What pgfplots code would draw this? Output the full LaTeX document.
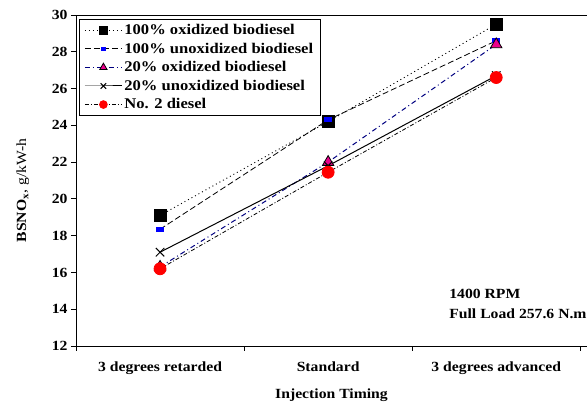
\documentclass[border=0pt]{standalone}
\usepackage{pgfplots}
\pgfplotsset{compat=1.18}
\usepackage{fontspec}
\setmainfont{Liberation Serif}[FakeStretch=1.12]
\definecolor{navyline}{RGB}{0,0,128}
\begin{document}
\begin{tikzpicture}[x=1pt,y=1pt]
\useasboundingbox (0,0) rectangle (587,404);
\begin{axis}[
  at={(76pt,58pt)}, anchor=south west,
  width=511pt, height=331pt, scale only axis,
  xmin=-0.5, xmax=2.54, ymin=12, ymax=30,
  separate axis lines,
  axis x line=box, axis y line=left,
  axis line style={-, line width=0.9pt},
  xtick pos=left, ytick pos=left,
  tick align=outside,
  major tick length=5pt,
  ytick={12,14,...,30},
  xtick={-0.5,0.5,1.5,2.5}, xticklabels={},
  extra x ticks={0,1,2},
  extra x tick labels={3 degrees retarded,Standard,3 degrees advanced},
  extra x tick style={major tick length=0pt},
  tick style={black, line width=0.8pt},
  /pgf/number format/assume math mode=true,
  ticklabel style={font=\bfseries\fontsize{14}{16}\selectfont},
  xticklabel style={yshift=-12pt},
  xlabel={Injection Timing},
  ylabel={\textbf{BSNO\textsubscript{x}}, g/kW-h},
  xlabel style={font=\bfseries\fontsize{14}{16}\selectfont, at={(axis description cs:0.5,0)}, anchor=center, yshift=-49pt},
  ylabel style={font=\fontsize{14}{16}\selectfont, at={(axis description cs:-0.104,0.47)}, anchor=center},
  legend style={at={(rel axis cs:0,1)}, anchor=north west, xshift=3pt, yshift=-4pt,
    draw=black, line width=0.8pt, font=\bfseries\fontsize{14.8}{16}\selectfont,
    cells={anchor=west}, row sep=2.8pt, inner xsep=5pt, inner ysep=3pt},
  legend image code/.code={\draw[mark repeat=2,mark phase=2, every mark/.append style={scale=0.65}] plot coordinates {(0pt,0pt) (18.5pt,0pt) (37pt,0pt)};},
]
\addplot[black, line width=0.9pt, dash pattern=on 1pt off 3pt, mark=square*, mark size=6pt, mark options={solid, fill=black}]
  coordinates {(0,19.1) (1,24.2) (2,29.5)};
\addlegendentry{100\% oxidized biodiesel}
\addplot[black, line width=0.8pt, dash pattern=on 6pt off 3pt, mark=square*, mark size=2pt, mark options={solid, fill=blue, draw=blue, xscale=1.8}]
  coordinates {(0,18.35) (1,24.3) (2,28.6)};
\addlegendentry{100\% unoxidized biodiesel}
\addplot[navyline, line width=1pt, dash pattern=on 5pt off 3pt on 1pt off 3pt, mark=triangle*, mark size=6.5pt, mark options={solid, fill=magenta, draw=black, line width=0.8pt}]
  coordinates {(0,16.3) (1,22.0) (2,28.4)};
\addlegendentry{20\% oxidized biodiesel}
\addplot[black, line width=1pt, solid, mark=x, mark size=6pt, mark options={solid, line width=1pt}]
  coordinates {(0,17.1) (1,21.8) (2,26.7)};
\addlegendentry{20\% unoxidized biodiesel}
\addplot[black, line width=0.8pt, dash pattern=on 4pt off 2pt on 1pt off 2pt, mark=*, mark size=6pt, mark options={solid, fill=red, draw=red}]
  coordinates {(0,16.2) (1,21.45) (2,26.6)};
\addlegendentry{No. 2 diesel}
\node[anchor=base west, font=\bfseries\fontsize{14}{16}\selectfont] at (axis cs:1.70,14.61) {1400 RPM};
\node[anchor=base west, font=\bfseries\fontsize{14}{16}\selectfont] at (axis cs:1.70,13.52) {Full Load 257.6 N.m};
\end{axis}
\end{tikzpicture}
\end{document}
